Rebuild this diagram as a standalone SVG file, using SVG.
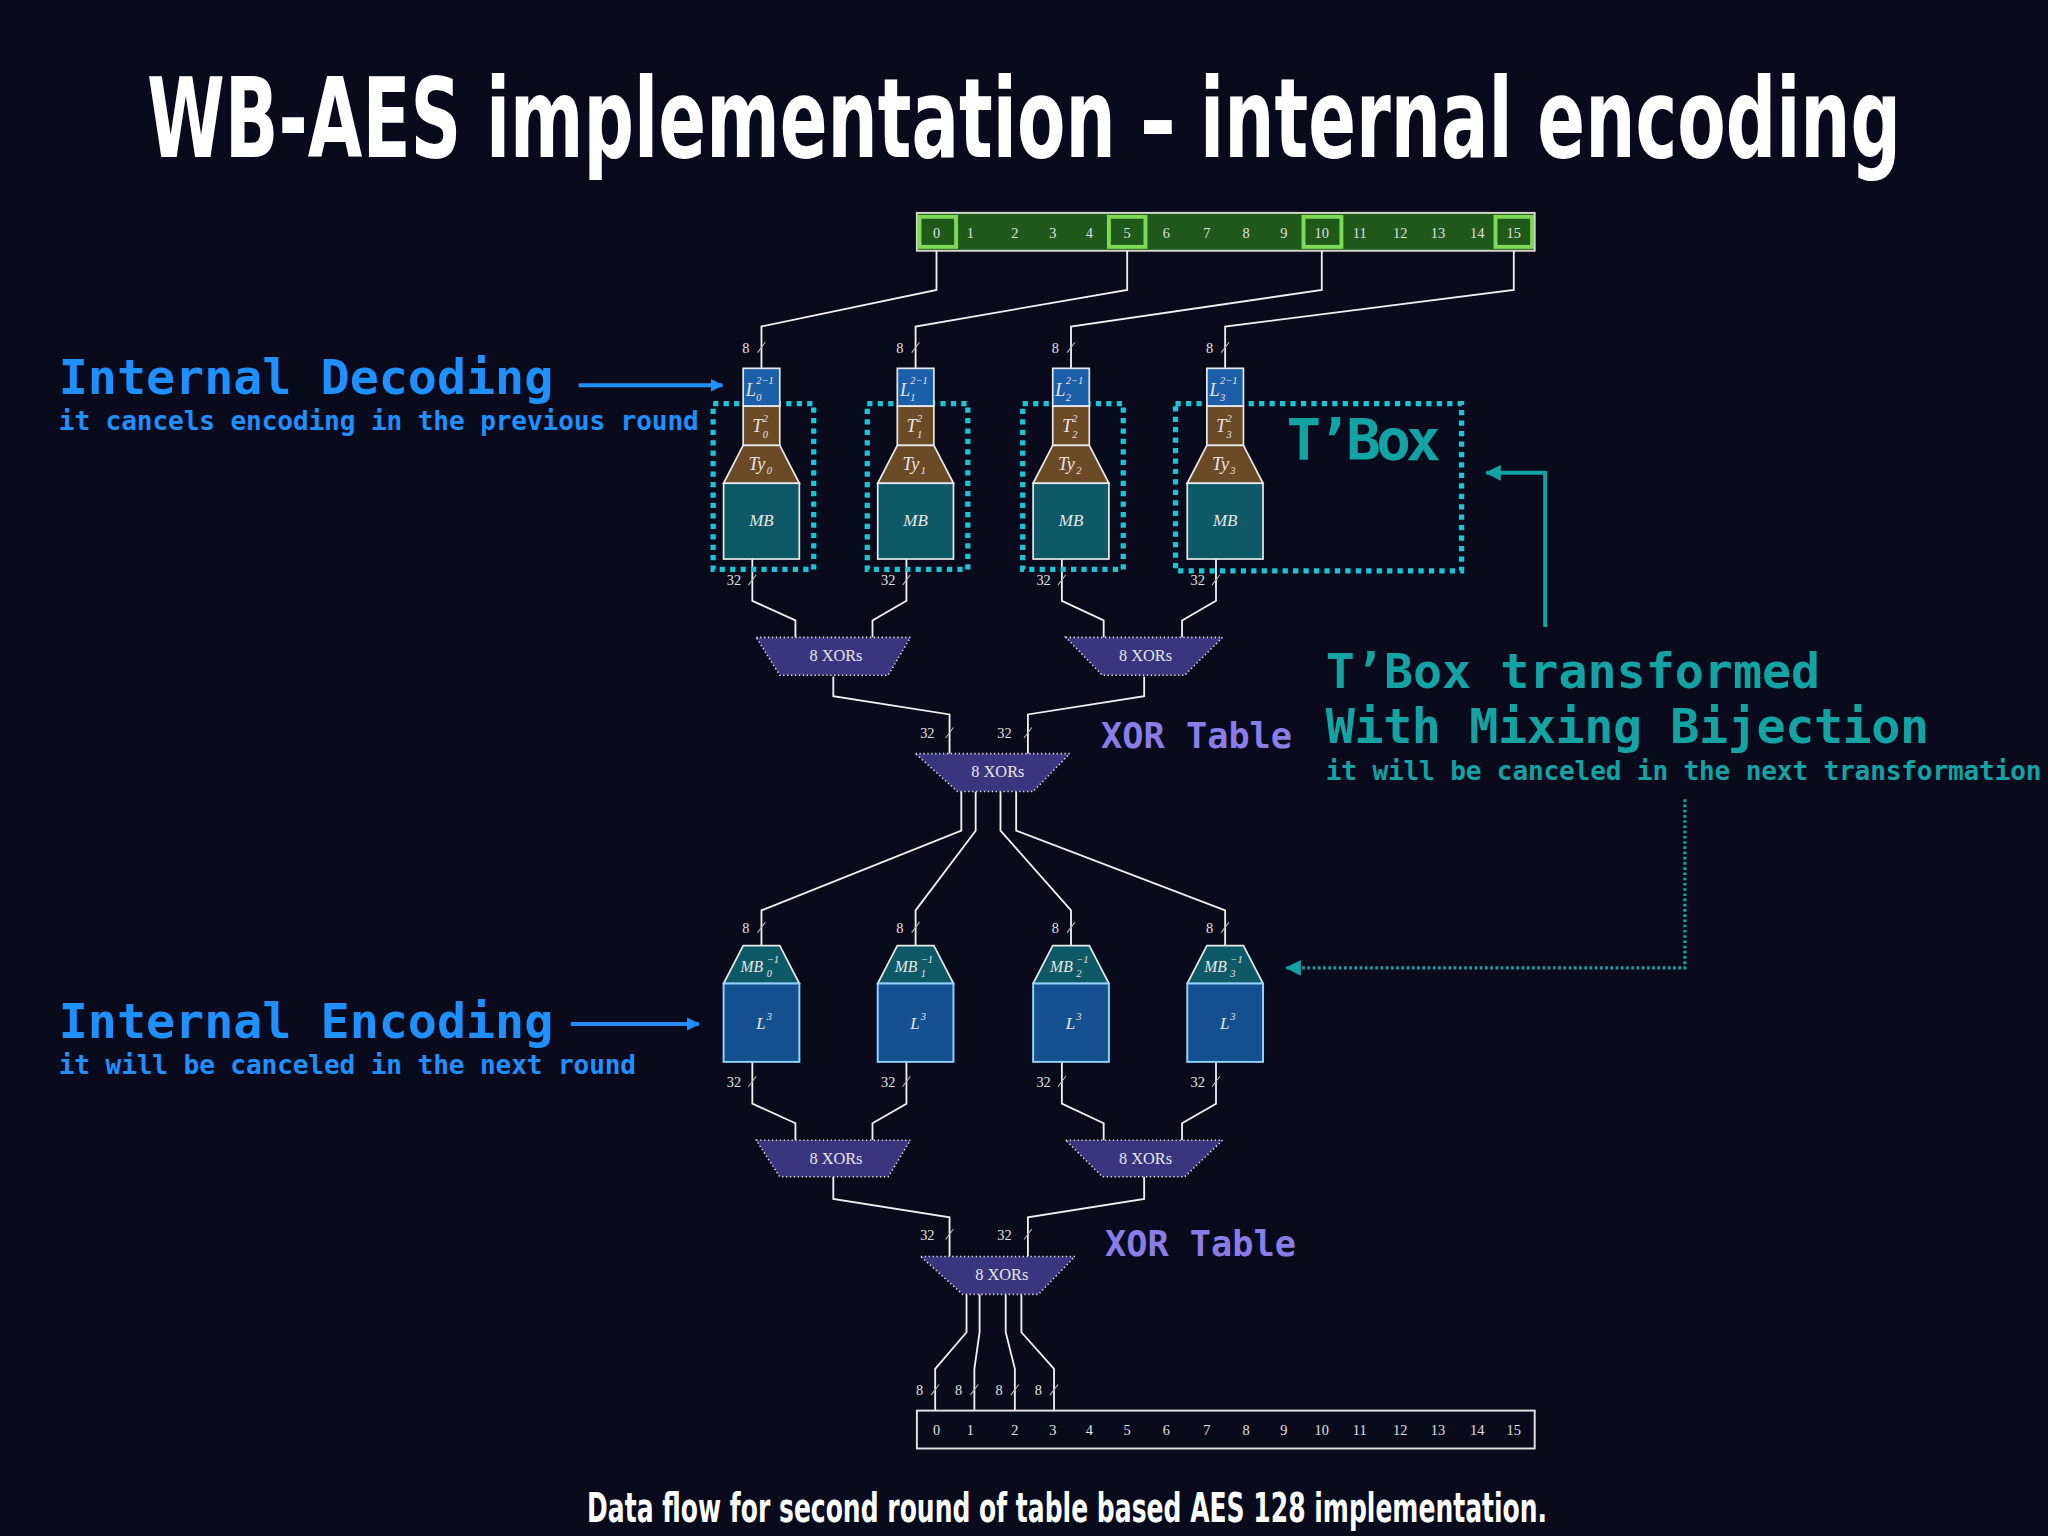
<svg xmlns="http://www.w3.org/2000/svg" width="2048" height="1536" viewBox="0 0 2048 1536">
<style>
.w{fill:none;stroke:#f0f0f0;stroke-width:1.4}
.tk{stroke:#bbb;stroke-width:0.8}
.n{font-family:"Liberation Serif",serif;fill:#e0e0e0;font-size:11px;text-anchor:middle}
.m{font-family:"Liberation Serif",serif;font-style:italic;fill:#e6e6e6}
.xor{fill:#3b3580;stroke:#e0e0e0;stroke-width:1.2;stroke-dasharray:1 2}
.xt{font-family:"Liberation Serif",serif;fill:#e6e6e6;font-size:12.5px;text-anchor:middle}
.mono{font-family:"DejaVu Sans Mono",monospace;font-weight:bold}
.tb{fill:none;stroke:#19c6d6;stroke-width:4;stroke-dasharray:4 4}
.box{stroke:#e8e8e8;stroke-width:1.3}
</style>
<defs>
<marker id="ab" markerWidth="10" markerHeight="10" refX="9" refY="5" orient="auto" markerUnits="userSpaceOnUse"><path d="M0,0 L10,5 L0,10 z" fill="#1e90ff"/></marker>
<marker id="at" markerWidth="12" markerHeight="12" refX="11" refY="6" orient="auto" markerUnits="userSpaceOnUse"><path d="M0,0 L12,6 L0,12 z" fill="#14a3a3"/></marker>
</defs>
<rect width="2048" height="1536" fill="#090b1d"/>
<g transform="scale(1.306122)">
<text x="784" y="120" font-family="DejaVu Sans,sans-serif" font-weight="bold" font-size="84" fill="#ffffff" text-anchor="middle" textLength="1343" lengthAdjust="spacingAndGlyphs">WB-AES implementation – internal encoding</text>

<g id="state_in">
<rect x="702" y="163" width="473" height="29" fill="#1f5a1a" stroke="#cfd8c8" stroke-width="1.5"/>
<g fill="none" stroke="#7ed957" stroke-width="3"><rect x="704" y="166" width="28" height="23"/><rect x="849" y="166" width="28" height="23"/><rect x="998" y="166" width="29" height="23"/><rect x="1145" y="166" width="28" height="23"/></g>
<g class="n" fill="#d8e8d0"><text x="717" y="182">0</text><text x="743" y="182">1</text><text x="777" y="182">2</text><text x="806" y="182">3</text><text x="834" y="182">4</text><text x="863" y="182">5</text><text x="893" y="182">6</text><text x="924" y="182">7</text><text x="954" y="182">8</text><text x="983" y="182">9</text><text x="1012" y="182">10</text><text x="1041" y="182">11</text><text x="1072" y="182">12</text><text x="1101" y="182">13</text><text x="1131" y="182">14</text><text x="1159" y="182">15</text></g>
</g>

<g id="connectors">
<path class="w" d="M717,192 V222 L583,250 V282 M863,192 V222 L701,250 V282 M1012,192 V222 L820,250 V282 M1159,192 V222 L938,250 V282"/>
<path class="w" d="M576,428 V460 L609,475 V488 M694,428 V460 L668,475 V488 M813,428 V460 L845,475 V488 M931,428 V460 L905,475 V488"/>
<path class="w" d="M638,518 V533 L727,547 V577 M876,518 V533 L787,547 V577"/>
<path class="w" d="M736,606 V636 L583,697 V724 M747,606 V636 L701,697 V724 M766,606 V636 L820,697 V724 M778,606 V636 L938,697 V724"/>
<path class="w" d="M576,813 V845 L609,860 V873 M694,813 V845 L668,860 V873 M813,813 V845 L845,860 V873 M931,813 V845 L905,860 V873"/>
<path class="w" d="M638,901 V918 L727,932 V962 M876,901 V918 L787,932 V962"/>
<path class="w" d="M740,991 V1020 L716,1048 V1080 M750,991 V1020 L746,1048 V1080 M770,991 V1020 L777,1048 V1080 M782,991 V1020 L807,1048 V1080"/>
<g class="tk"><path d="M580,270 L586,262 M698,270 L704,262 M817,270 L823,262 M935,270 L941,262"/><path d="M573,448 L579,440 M691,448 L697,440 M810,448 L816,440 M928,448 L934,440"/><path d="M724,565 L730,557 M784,565 L790,557"/><path d="M580,714 L586,706 M698,714 L704,706 M817,714 L823,706 M935,714 L941,706"/><path d="M573,832 L579,824 M691,832 L697,824 M810,832 L816,824 M928,832 L934,824"/><path d="M724,949 L730,941 M784,949 L790,941"/><path d="M713,1068 L719,1060 M743,1068 L749,1060 M774,1068 L780,1060 M804,1068 L810,1060"/></g>
<g class="n"><text x="571" y="270">8</text><text x="689" y="270">8</text><text x="808" y="270">8</text><text x="926" y="270">8</text>
<text x="562" y="448">32</text><text x="680" y="448">32</text><text x="799" y="448">32</text><text x="917" y="448">32</text>
<text x="710" y="565">32</text><text x="769" y="565">32</text>
<text x="571" y="714">8</text><text x="689" y="714">8</text><text x="808" y="714">8</text><text x="926" y="714">8</text>
<text x="562" y="832">32</text><text x="680" y="832">32</text><text x="799" y="832">32</text><text x="917" y="832">32</text>
<text x="710" y="949">32</text><text x="769" y="949">32</text>
<text x="704" y="1068">8</text><text x="734" y="1068">8</text><text x="765" y="1068">8</text><text x="795" y="1068">8</text></g>
</g>

<g id="tbox0"><rect class="tb" x="546" y="309" width="77" height="127"/>
<rect class="box" x="569" y="282" width="28" height="29" fill="#1a5fa8"/><text class="m" x="571" y="303" font-size="14">L</text><text class="m" x="579" y="307" font-size="8">0</text><text class="m" x="579" y="294" font-size="8">2−1</text>
<rect class="box" x="569" y="311" width="28" height="30" fill="#6b4a26"/><text class="m" x="576" y="331" font-size="14">T</text><text class="m" x="584" y="323" font-size="8">2</text><text class="m" x="584" y="335" font-size="8">0</text>
<polygon class="box" points="569,341 597,341 612,370 554,370" fill="#6b4a26"/><text class="m" x="573" y="360" font-size="14">Ty</text><text class="m" x="587" y="363" font-size="8">0</text>
<rect class="box" x="554" y="370" width="58" height="58" fill="#0e5966"/><text class="m" x="583" y="403" font-size="13" text-anchor="middle">MB</text></g>
<g id="tbox1"><rect class="tb" x="664" y="309" width="77" height="127"/>
<rect class="box" x="687" y="282" width="28" height="29" fill="#1a5fa8"/><text class="m" x="689" y="303" font-size="14">L</text><text class="m" x="697" y="307" font-size="8">1</text><text class="m" x="697" y="294" font-size="8">2−1</text>
<rect class="box" x="687" y="311" width="28" height="30" fill="#6b4a26"/><text class="m" x="694" y="331" font-size="14">T</text><text class="m" x="702" y="323" font-size="8">2</text><text class="m" x="702" y="335" font-size="8">1</text>
<polygon class="box" points="687,341 715,341 730,370 672,370" fill="#6b4a26"/><text class="m" x="691" y="360" font-size="14">Ty</text><text class="m" x="705" y="363" font-size="8">1</text>
<rect class="box" x="672" y="370" width="58" height="58" fill="#0e5966"/><text class="m" x="701" y="403" font-size="13" text-anchor="middle">MB</text></g>
<g id="tbox2"><rect class="tb" x="783" y="309" width="77" height="127"/>
<rect class="box" x="806" y="282" width="28" height="29" fill="#1a5fa8"/><text class="m" x="808" y="303" font-size="14">L</text><text class="m" x="816" y="307" font-size="8">2</text><text class="m" x="816" y="294" font-size="8">2−1</text>
<rect class="box" x="806" y="311" width="28" height="30" fill="#6b4a26"/><text class="m" x="813" y="331" font-size="14">T</text><text class="m" x="821" y="323" font-size="8">2</text><text class="m" x="821" y="335" font-size="8">2</text>
<polygon class="box" points="806,341 834,341 849,370 791,370" fill="#6b4a26"/><text class="m" x="810" y="360" font-size="14">Ty</text><text class="m" x="824" y="363" font-size="8">2</text>
<rect class="box" x="791" y="370" width="58" height="58" fill="#0e5966"/><text class="m" x="820" y="403" font-size="13" text-anchor="middle">MB</text></g>
<g id="tbox3"><rect class="tb" x="900" y="309" width="219" height="128"/>
<rect class="box" x="924" y="282" width="28" height="29" fill="#1a5fa8"/><text class="m" x="926" y="303" font-size="14">L</text><text class="m" x="934" y="307" font-size="8">3</text><text class="m" x="934" y="294" font-size="8">2−1</text>
<rect class="box" x="924" y="311" width="28" height="30" fill="#6b4a26"/><text class="m" x="931" y="331" font-size="14">T</text><text class="m" x="939" y="323" font-size="8">2</text><text class="m" x="939" y="335" font-size="8">3</text>
<polygon class="box" points="924,341 952,341 967,370 909,370" fill="#6b4a26"/><text class="m" x="928" y="360" font-size="14">Ty</text><text class="m" x="942" y="363" font-size="8">3</text>
<rect class="box" x="909" y="370" width="58" height="58" fill="#0e5966"/><text class="m" x="938" y="403" font-size="13" text-anchor="middle">MB</text>
<text class="mono" x="985" y="352" font-size="44" fill="#14a3a3" textLength="118" font-weight="normal">T’Box</text></g>

<g id="xor1"><polygon class="xor" points="579,488 697,488 680,517 597,517"/><text class="xt" x="640" y="506">8 XORs</text></g>
<g id="xor2"><polygon class="xor" points="816,488 936,488 907,517 844,517"/><text class="xt" x="877" y="506">8 XORs</text></g>
<g id="xor3"><polygon class="xor" points="701,577 819,577 791,606 733,606"/><text class="xt" x="764" y="595">8 XORs</text></g>
<g id="xor4"><polygon class="xor" points="579,873 697,873 680,901 597,901"/><text class="xt" x="640" y="891">8 XORs</text></g>
<g id="xor5"><polygon class="xor" points="816,873 936,873 907,901 844,901"/><text class="xt" x="877" y="891">8 XORs</text></g>
<g id="xor6"><polygon class="xor" points="705,962 823,962 795,991 737,991"/><text class="xt" x="767" y="980">8 XORs</text></g>

<g id="enc0"><polygon class="box" points="569,724 597,724 612,753 554,753" fill="#0e5966"/><text class="m" x="567" y="744" font-size="12">MB</text><text class="m" x="587" y="748" font-size="8">0</text><text class="m" x="587" y="737" font-size="8">−1</text>
<rect x="554" y="753" width="58" height="60" fill="#14508f" stroke="#8fd0ff" stroke-width="1.5"/><text class="m" x="579" y="788" font-size="13">L</text><text class="m" x="587" y="781" font-size="8">3</text></g>
<g id="enc1"><polygon class="box" points="687,724 715,724 730,753 672,753" fill="#0e5966"/><text class="m" x="685" y="744" font-size="12">MB</text><text class="m" x="705" y="748" font-size="8">1</text><text class="m" x="705" y="737" font-size="8">−1</text>
<rect x="672" y="753" width="58" height="60" fill="#14508f" stroke="#8fd0ff" stroke-width="1.5"/><text class="m" x="697" y="788" font-size="13">L</text><text class="m" x="705" y="781" font-size="8">3</text></g>
<g id="enc2"><polygon class="box" points="806,724 834,724 849,753 791,753" fill="#0e5966"/><text class="m" x="804" y="744" font-size="12">MB</text><text class="m" x="824" y="748" font-size="8">2</text><text class="m" x="824" y="737" font-size="8">−1</text>
<rect x="791" y="753" width="58" height="60" fill="#14508f" stroke="#8fd0ff" stroke-width="1.5"/><text class="m" x="816" y="788" font-size="13">L</text><text class="m" x="824" y="781" font-size="8">3</text></g>
<g id="enc3"><polygon class="box" points="924,724 952,724 967,753 909,753" fill="#0e5966"/><text class="m" x="922" y="744" font-size="12">MB</text><text class="m" x="942" y="748" font-size="8">3</text><text class="m" x="942" y="737" font-size="8">−1</text>
<rect x="909" y="753" width="58" height="60" fill="#14508f" stroke="#8fd0ff" stroke-width="1.5"/><text class="m" x="934" y="788" font-size="13">L</text><text class="m" x="942" y="781" font-size="8">3</text></g>

<g id="state_out">
<rect x="702" y="1080" width="473" height="29" fill="none" stroke="#e0e0e0" stroke-width="1.5"/>
<g class="n"><text x="717" y="1099">0</text><text x="743" y="1099">1</text><text x="777" y="1099">2</text><text x="806" y="1099">3</text><text x="834" y="1099">4</text><text x="863" y="1099">5</text><text x="893" y="1099">6</text><text x="924" y="1099">7</text><text x="954" y="1099">8</text><text x="983" y="1099">9</text><text x="1012" y="1099">10</text><text x="1041" y="1099">11</text><text x="1072" y="1099">12</text><text x="1101" y="1099">13</text><text x="1131" y="1099">14</text><text x="1159" y="1099">15</text></g>
</g>

<g id="annotations">
<text class="mono" x="45" y="302" font-size="37" fill="#1e90ff">Internal Decoding</text>
<text class="mono" x="45" y="329" font-size="20" fill="#1e90ff" font-weight="normal" textLength="490">it cancels encoding in the previous round</text>
<path d="M443,295 H553" stroke="#1e90ff" stroke-width="3" marker-end="url(#ab)"/>
<text class="mono" x="45" y="795" font-size="37" fill="#1e90ff">Internal Encoding</text>
<text class="mono" x="45" y="822" font-size="20" fill="#1e90ff" font-weight="normal" textLength="442">it will be canceled in the next round</text>
<path d="M437,784 H535" stroke="#1e90ff" stroke-width="3" marker-end="url(#ab)"/>
<text class="mono" x="1015" y="527" font-size="37" fill="#14a3a3">T’Box transformed</text>
<text class="mono" x="1015" y="569" font-size="37" fill="#14a3a3" textLength="462">With Mixing Bijection</text>
<text class="mono" x="1015" y="597" font-size="20" fill="#14a3a3" font-weight="normal" textLength="548">it will be canceled in the next transformation</text>
<path d="M1183,480 V362 H1138" fill="none" stroke="#14a3a3" stroke-width="3" marker-end="url(#at)"/>
<path d="M1290,612 V741 H985" fill="none" stroke="#14a3a3" stroke-width="2.5" stroke-dasharray="2 2" marker-end="url(#at)"/>
<text class="mono" x="843" y="573" font-size="27" fill="#8a7de8">XOR Table</text>
<text class="mono" x="846" y="962" font-size="27" fill="#8a7de8">XOR Table</text>
</g>
<text x="817" y="1165" font-family="DejaVu Sans,sans-serif" font-weight="bold" font-size="31" fill="#ffffff" text-anchor="middle" textLength="735" lengthAdjust="spacingAndGlyphs">Data flow for second round  of table based AES 128 implementation.</text>
</g>
</svg>
